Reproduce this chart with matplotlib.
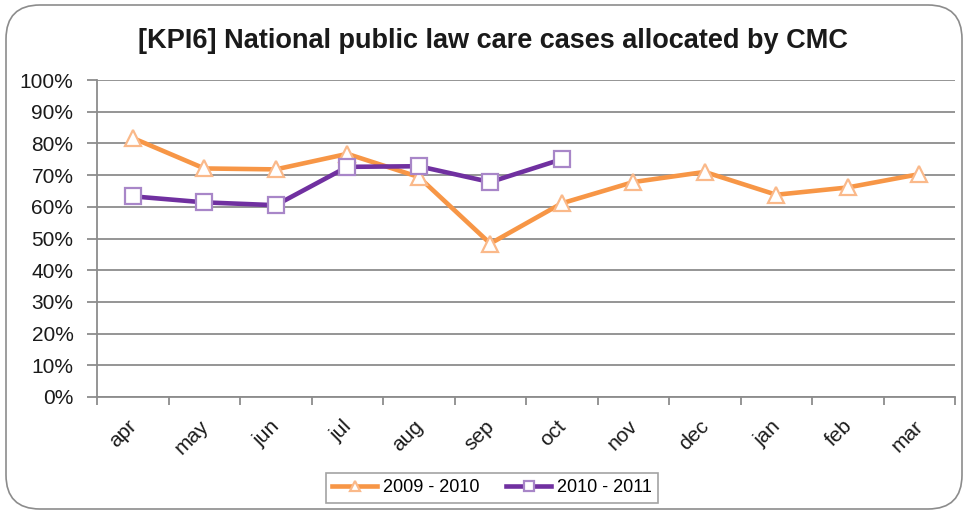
import matplotlib
matplotlib.use("Agg")
import matplotlib.pyplot as plt
from matplotlib.patches import FancyBboxPatch
from matplotlib.ticker import FixedLocator, NullFormatter

plt.rcParams['font.family'] = ['Liberation Sans', 'DejaVu Sans']

months = ["apr", "may", "jun", "jul", "aug", "sep", "oct", "nov", "dec", "jan", "feb", "mar"]
series_2009 = [81.7, 72.1, 71.8, 76.7, 69.4, 48.4, 61.1, 67.8, 71.0, 63.8, 66.1, 70.3]
series_2010 = [63.3, 61.4, 60.5, 72.6, 72.8, 67.8, 75.0]
y_ticks = [0, 10, 20, 30, 40, 50, 60, 70, 80, 90, 100]
y_tick_labels = [f"{v}%" for v in y_ticks]
title = "[KPI6] National public law care cases allocated by CMC"
labels = ["2009 - 2010", "2010 - 2011"]

W, H = 971, 515
fig = plt.figure(figsize=(W / 100, H / 100), dpi=100, facecolor="white")

# outer rounded frame
frame = FancyBboxPatch((6 / W, 6 / H), (962 - 6) / W, (510 - 6) / H,
                       boxstyle="round,pad=0,rounding_size=0.035",
                       transform=fig.transFigure, facecolor="none",
                       edgecolor="#8c8c8c", linewidth=1.2, zorder=-1,
                       mutation_aspect=W / H)
fig.patches.append(frame)

left, right, top, bottom = 97, 955, 80, 397
ax = fig.add_axes([left / W, 1 - bottom / H, (right - left) / W, (bottom - top) / H])
ax.set_facecolor("none")

x = list(range(len(months)))
ax.plot(x, series_2009, color="#F79646", linewidth=3.3, marker="^", markersize=12,
        markerfacecolor="white", markeredgecolor="#FAB98A", markeredgewidth=1.6,
        label=labels[0], zorder=3, clip_on=False)
ax.plot(x[:len(series_2010)], series_2010, color="#7030A0", linewidth=3.3, marker="s",
        markersize=11, markerfacecolor="white", markeredgecolor="#A886C8",
        markeredgewidth=1.6, label=labels[1], zorder=4, clip_on=False)

ax.set_xlim(-0.5, len(months) - 0.5)
ax.set_ylim(0, 100)
ax.set_yticks(y_ticks)
ax.set_yticklabels(y_tick_labels, fontsize=15, color="#1a1a1a")
ax.yaxis.grid(True, color="#8c8c8c", linewidth=1.3)
ax.set_axisbelow(True)

# category boundary ticks
ax.xaxis.set_major_locator(FixedLocator([i - 0.5 for i in range(len(months) + 1)]))
ax.xaxis.set_major_formatter(NullFormatter())
ax.tick_params(axis="x", direction="out", length=6, width=1.3, color="#8c8c8c")
ax.tick_params(axis="y", direction="out", length=7, width=1.3, color="#8c8c8c", pad=10)

for i, m in enumerate(months):
    ax.annotate(m, xy=(i, 0), xycoords=("data", "axes fraction"),
                xytext=(-4, -14), textcoords="offset points",
                rotation=45, ha="right", va="top", rotation_mode="anchor",
                fontsize=15, color="#1a1a1a")

for side in ["top", "right"]:
    ax.spines[side].set_visible(False)
for side in ["left", "bottom"]:
    ax.spines[side].set_color("#8c8c8c")
    ax.spines[side].set_linewidth(1.3)

fig.text(493 / W, 1 - 41 / H, title, ha="center", va="center",
         fontsize=19.5, fontweight="bold", color="#1a1a1a")

leg = fig.legend(loc="center", bbox_to_anchor=(492 / W, 1 - 488 / H),
                 ncol=2, fontsize=13, frameon=True, fancybox=False,
                 edgecolor="#8c8c8c", handlelength=2.5, markerscale=0.6,
                 columnspacing=1.5, handletextpad=0.3, borderpad=0.35)
leg.get_frame().set_linewidth(1.2)

fig.savefig("out.png", dpi=100)
